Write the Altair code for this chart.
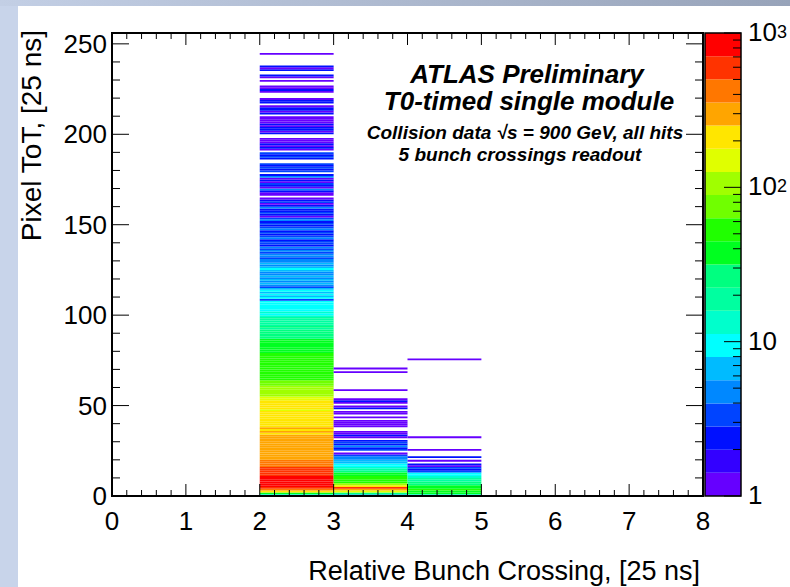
import altair as alt
import pandas as pd

FONT = "Liberation Sans"

# ---------------------------------------------------------------- data
# Hits per ToT value (list index = ToT, in 25 ns units) for each populated
# relative bunch-crossing bin.
hits_bc2 = [
    10, 40, 200, 420, 620, 800, 900, 950, 920, 850,      # 0-9
    760, 680, 640, 600, 560, 520, 480, 420, 380, 360,    # 10-19
    340, 320, 300, 290, 300, 280, 270, 280, 290, 270,    # 20-29
    260, 270, 260, 260, 240, 265, 230, 255, 240, 230,    # 30-39
    220, 215, 210, 205, 200, 200, 195, 170, 190, 185,    # 40-49
    180, 180, 178, 160, 150, 120, 115, 110, 105, 100,    # 50-59
    95, 85, 80, 75, 62, 60, 58, 58, 55, 54,              # 60-69
    52, 52, 50, 50, 48, 47, 46, 46, 45, 44,              # 70-79
    42, 40, 40, 38, 36, 35, 33, 30, 28, 27,              # 80-89
    26, 25, 22, 24, 20, 18, 21, 16, 17, 14,              # 90-99
    11, 12, 10, 11, 10, 9, 10, 9, 3, 9,                  # 100-109
    7, 8, 7, 9, 6, 3, 5, 7, 4, 6,                        # 110-119
    5, 6, 4, 5, 7, 8, 6, 5, 7, 4,                        # 120-129
    4, 3, 4, 4, 3, 4, 3, 4, 2, 3,                        # 130-139
    3, 2, 4, 3, 2, 3, 2, 5, 3, 2,                        # 140-149
    3, 2, 4, 3, 1, 2, 3, 2, 2, 4,                        # 150-159
    2, 1, 3, 2, 1, 0, 1, 1, 2, 4,                        # 160-169
    1, 2, 3, 1, 2, 1, 4, 2, 0, 3,                        # 170-179
    2, 3, 2, 3, 0, 0, 2, 3, 2, 3,                        # 180-189
    0, 1, 2, 1, 2, 1, 1, 1, 0, 0,                        # 190-199
    2, 1, 2, 2, 1, 2, 1, 1, 1, 1,                        # 200-209
    0, 2, 1, 2, 2, 1, 0, 2, 2, 1,                        # 210-219
    0, 0, 0, 1, 2, 1, 1, 0, 0, 1,                        # 220-229
    0, 1, 2, 0, 0, 2, 1, 2, 0, 0,                        # 230-239
    0, 0, 0, 0, 1, 0,                                    # 240-245
]
hits_bc3 = [
    6, 30, 150, 300, 550, 180, 90, 60, 55, 50,           # 0-9
    45, 40, 35, 25, 18, 13, 10, 8, 7, 6,                 # 10-19
    5, 4, 3, 1, 0, 3, 2, 4, 2, 3,                        # 20-29
    2, 0, 1, 2, 1, 1, 0, 0, 1, 1,                        # 30-39
    1, 1, 0, 1, 0, 1, 1, 0, 2, 1,                        # 40-49
    0, 1, 2, 1, 0, 0, 0, 0, 1, 0,                        # 50-59
    0, 0, 0, 0, 0, 0, 0, 0, 1, 0,                        # 60-69
    1, 0,                                                # 70-71
]
hits_bc4 = [
    9, 35, 40, 45, 40, 35, 30, 25, 22, 18,               # 0-9
    15, 10, 8, 3, 2, 3, 1, 2, 0, 1,                      # 10-19
    0, 2, 0, 0, 0, 1, 0, 0, 0, 0,                        # 20-29
    0, 0, 1, 0, 0, 0, 0, 0, 0, 0,                        # 30-39
    0, 0, 0, 0, 0, 0, 0, 0, 0, 0,                        # 40-49
    0, 0, 0, 0, 0, 0, 0, 0, 0, 0,                        # 50-59
    0, 0, 0, 0, 0, 0, 0, 0, 0, 0,                        # 60-69
    0, 0, 0, 0, 0, 1,                                    # 70-75
]
bc_bins = [2, 3, 4]

x_major = [0, 1, 2, 3, 4, 5, 6, 7, 8]
y_major = [0, 50, 100, 150, 200, 250]
z_major = [1, 10, 100, 1000]
z_major_text = ["1", "10", "10", "10"]
z_label_shift = [2, 2, 2, 8]
z_minor = [2, 3, 4, 5, 6, 7, 8, 9, 20, 30, 40, 50, 60, 70, 80, 90,
           200, 300, 400, 500, 600, 700, 800, 900]
z_exponents = [100, 1000]
z_exponent_text = ["2", "3"]
z_exponent_shift = [-9, -5]

x_title = "Relative Bunch Crossing, [25 ns]"
y_title = "Pixel ToT, [25 ns]"

# 20-step rainbow palette (low -> high), equal steps in log10(hits)
palette = [
    "#6600FF", "#3300FF", "#0010FF", "#0044FF", "#0088FF",
    "#00BBFF", "#00FFFF", "#00FFCC", "#00FFA0", "#00FF80",
    "#00FF20", "#20FF00", "#70FF00", "#A0FF00", "#E0FF00",
    "#FFE600", "#FFA500", "#FF7700", "#FF3300", "#FF0000",
]
LOG_STEP = 3.0 / len(palette)
thresholds = [10 ** (LOG_STEP * k) for k in range(1, len(palette))]

# ------------------------------------------------------------ tables
cells = []
for bc, hits in zip(bc_bins, [hits_bc2, hits_bc3, hits_bc4]):
    for tot, n in enumerate(hits):
        if n > 0:
            cells.append({"x0": bc, "x1": bc + 1, "t0": tot, "t1": tot + 1, "n": n})
cells = pd.DataFrame(cells)

x_minor = [i + f for i in x_major[:-1] for f in (0.2, 0.4, 0.6, 0.8)]
y_minor = [v for v in range(0, 256, 10) if v not in y_major]

bands = pd.DataFrame({
    "lo": [10 ** (LOG_STEP * k) for k in range(len(palette))],
    "hi": [10 ** (LOG_STEP * (k + 1)) for k in range(len(palette))],
    "mid": [10 ** (LOG_STEP * (k + 0.5)) for k in range(len(palette))],
})

# ------------------------------------------------------------ layout
W, H = 591, 463            # frame of the histogram
CB0, CB1 = 593, 629        # colour bar, in frame pixels
one = pd.DataFrame({"a": [0]})

xs = alt.Scale(domain=[0, 8], nice=False, zero=False)
ys = alt.Scale(domain=[0, 256], nice=False, zero=False)
zs = alt.Scale(type="log", domain=[1, 1000], nice=False)
cs = alt.Scale(type="threshold", domain=thresholds, range=palette)

# slide background: white sheet over a light-blue frame
sheet = alt.Chart(one).mark_rect(color="white").encode(
    x=alt.value(-94), x2=alt.value(W + 87), y=alt.value(-27), y2=alt.value(H + 91))
top_band = alt.Chart(one).mark_rect(
    fill=alt.Gradient(gradient="linear", x1=0, x2=1, y1=0, y2=0,
                      stops=[alt.GradientStop(color="#C3CFE5", offset=0),
                             alt.GradientStop(color="#97A3B9", offset=1)])
).encode(x=alt.value(-112), x2=alt.value(W + 87), y=alt.value(-33), y2=alt.value(-27))

heat = alt.Chart(cells).mark_rect().encode(
    x=alt.X("x0:Q", scale=xs, axis=None), x2="x1",
    y=alt.Y("t0:Q", scale=ys, axis=None), y2="t1",
    color=alt.Color("n:Q", scale=cs, legend=None),
)


def xticks(values, length):
    d = pd.DataFrame({"v": values})
    bottom = alt.Chart(d).mark_rule(color="black", strokeWidth=1).encode(
        x=alt.X("v:Q", scale=xs, axis=None), y=alt.value(H), y2=alt.value(H - length))
    top = alt.Chart(d).mark_rule(color="black", strokeWidth=1).encode(
        x=alt.X("v:Q", scale=xs, axis=None), y=alt.value(0), y2=alt.value(length))
    return [bottom, top]


def yticks(values, length):
    d = pd.DataFrame({"v": values})
    left = alt.Chart(d).mark_rule(color="black", strokeWidth=1).encode(
        y=alt.Y("v:Q", scale=ys, axis=None), x=alt.value(0), x2=alt.value(length))
    right = alt.Chart(d).mark_rule(color="black", strokeWidth=1).encode(
        y=alt.Y("v:Q", scale=ys, axis=None), x=alt.value(W), x2=alt.value(W - length))
    return [left, right]


frame = alt.Chart(one).mark_rect(fillOpacity=0, stroke="black", strokeWidth=2).encode(
    x=alt.value(0), x2=alt.value(W), y=alt.value(0), y2=alt.value(H))

# tick labels placed through the same scales
x_labels = alt.Chart(pd.DataFrame({"v": x_major})).mark_text(
    font=FONT, fontSize=26, align="center", baseline="alphabetic", color="black",
).encode(x=alt.X("v:Q", scale=xs, axis=None), y=alt.value(H + 34), text="v:Q")
y_labels = alt.Chart(pd.DataFrame({"v": y_major})).mark_text(
    font=FONT, fontSize=26, align="right", baseline="middle", color="black", dy=1,
).encode(y=alt.Y("v:Q", scale=ys, axis=None), x=alt.value(-5), text="v:Q")

x_title_mark = alt.Chart(one).mark_text(
    font=FONT, fontSize=27, align="right", baseline="alphabetic", color="black",
).encode(x=alt.value(W - 3), y=alt.value(H + 84), text=alt.value(x_title))
y_title_mark = alt.Chart(one).mark_text(
    font=FONT, fontSize=28, align="right", baseline="alphabetic", color="black",
    angle=270,
).encode(x=alt.value(-71), y=alt.value(-3), text=alt.value(y_title))


def label(text, x, y, size):
    return alt.Chart(one).mark_text(
        font=FONT, fontSize=size, fontWeight="bold", fontStyle="italic",
        align="center", baseline="alphabetic", color="black",
    ).encode(x=alt.value(x), y=alt.value(y), text=alt.value(text))


texts = [
    label("ATLAS Preliminary", 415, 50, 26),
    label("T0-timed single module", 417, 77, 26),
    label("Collision data \u221as = 900 GeV, all hits", 413, 106, 19),
    label("5 bunch crossings readout", 408, 128, 19),
]

main = alt.layer(
    heat,
    *xticks(x_major, 12), *xticks(x_minor, 6),
    *yticks(y_major, 17), *yticks(y_minor, 8),
    frame, x_labels, y_labels, x_title_mark, y_title_mark, *texts,
)

# colour bar with log scale
cb_rect = alt.Chart(bands).mark_rect().encode(
    x=alt.value(CB0), x2=alt.value(CB1),
    y=alt.Y("lo:Q", scale=zs, axis=None), y2="hi",
    color=alt.Color("mid:Q", scale=cs, legend=None),
)
cb_major = alt.Chart(pd.DataFrame({"v": z_major})).mark_rule(color="black").encode(
    y=alt.Y("v:Q", scale=zs, axis=None), x=alt.value(CB1), x2=alt.value(CB1 - 17))
cb_minor = alt.Chart(pd.DataFrame({"v": z_minor})).mark_rule(color="black").encode(
    y=alt.Y("v:Q", scale=zs, axis=None), x=alt.value(CB1), x2=alt.value(CB1 - 8))
cb_frame = alt.Chart(one).mark_rect(fillOpacity=0, stroke="black", strokeWidth=1.5).encode(
    x=alt.value(CB0), x2=alt.value(CB1), y=alt.value(0), y2=alt.value(H))
# label text centred on its tick, the top one kept inside the bar height
cb_labels = alt.Chart(
    pd.DataFrame({"v": z_major, "t": z_major_text, "s": z_label_shift})
).mark_text(
    font=FONT, fontSize=26, align="left", baseline="middle", color="black",
).encode(
    y=alt.Y("v:Q", scale=zs, axis=None), x=alt.value(CB1 + 7), text="t:N",
    yOffset=alt.YOffset("s:Q", scale=None),
)
cb_exp = alt.Chart(
    pd.DataFrame({"v": z_exponents, "e": z_exponent_text, "s": z_exponent_shift})
).mark_text(
    font=FONT, fontSize=18, align="left", baseline="middle", color="black",
).encode(
    y=alt.Y("v:Q", scale=zs, axis=None), x=alt.value(CB1 + 36), text="e:N",
    yOffset=alt.YOffset("s:Q", scale=None),
)

colorbar = alt.layer(cb_rect, cb_major, cb_minor, cb_frame, cb_labels, cb_exp)

chart = alt.layer(sheet, top_band, main, colorbar).resolve_scale(
    y="independent"
).properties(
    width=W, height=H,
    autosize=alt.AutoSizeParams(type="none"),
    padding={"left": 112, "top": 33, "right": 87, "bottom": 91},
    background="#C8D4EA",
).configure_view(stroke="transparent")

chart.save("out.html", embed_options={"renderer": "svg", "actions": False})
